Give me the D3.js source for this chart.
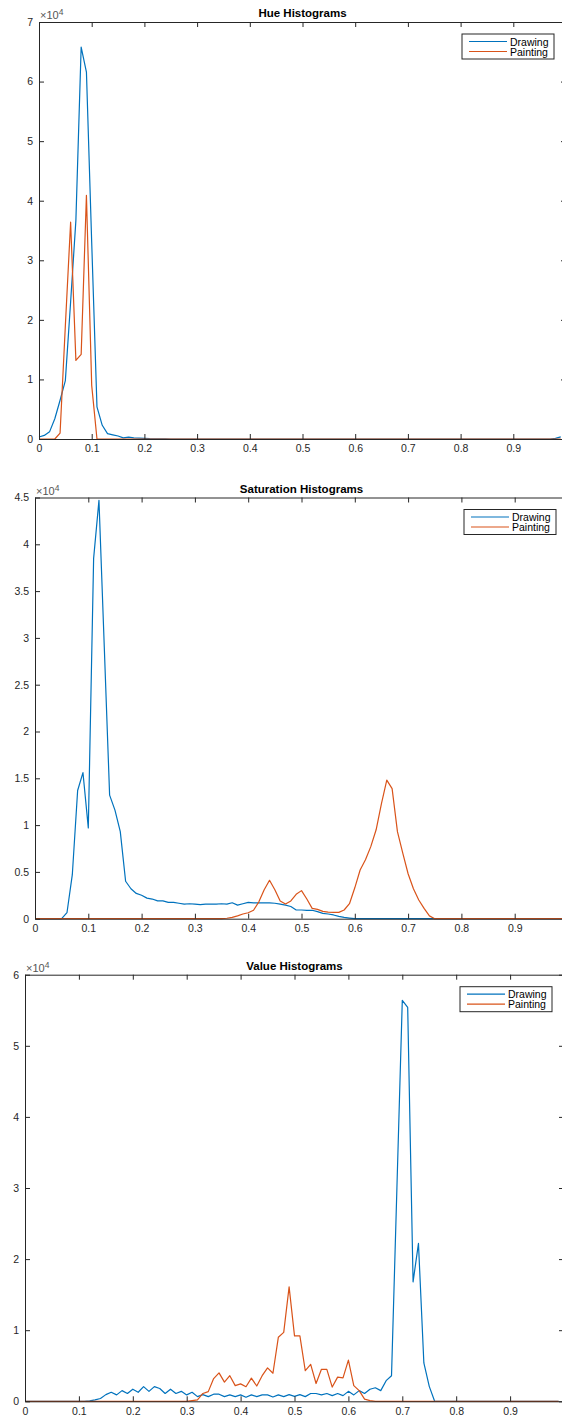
<!DOCTYPE html>
<html>
<head>
<meta charset="utf-8">
<script src="https://cdn.jsdelivr.net/npm/d3@7"></script>
<style>
  body { margin: 0; background: #fff; }
  svg { display: block; font-family: "Liberation Sans", Arial, Helvetica, sans-serif; }
</style>
</head>
<body>
<svg id="chart" width="562" height="1420"></svg>
<script>
// histogram bins 0:0.01:0.99
var bins = d3.range(100).map(function (i) { return i / 100; });

var hueDrawing = [
  340, 600, 1200, 3400, 6500, 9800, 23000, 36700, 65800, 61600,
  33000, 5400, 2300, 900, 700, 500, 200, 300, 200, 150,
  100, 60, 40, 30, 20, 0, 0, 0, 0, 0,
  0, 0, 0, 0, 0, 0, 0, 0, 0, 0,
  0, 0, 0, 0, 0, 0, 0, 0, 0, 0,
  0, 0, 0, 0, 0, 0, 0, 0, 0, 0,
  0, 0, 0, 0, 0, 0, 0, 0, 0, 0,
  0, 0, 0, 0, 0, 0, 0, 0, 0, 0,
  0, 0, 0, 0, 0, 0, 0, 0, 0, 0,
  0, 0, 0, 0, 0, 0, 0, 0, 100, 350
];
var huePainting = [
  0, 0, 0, 0, 1000, 19000, 36400, 13200, 14200, 40900,
  9000, 0, 0, 0, 0, 0, 0, 0, 0, 0,
  0, 0, 0, 0, 0, 0, 0, 0, 0, 0,
  0, 0, 0, 0, 0, 0, 0, 0, 0, 0,
  0, 0, 0, 0, 0, 0, 0, 0, 0, 0,
  0, 0, 0, 0, 0, 0, 0, 0, 0, 0,
  0, 0, 0, 0, 0, 0, 0, 0, 0, 0,
  0, 0, 0, 0, 0, 0, 0, 0, 0, 0,
  0, 0, 0, 0, 0, 0, 0, 0, 0, 0,
  0, 0, 0, 0, 0, 0, 0, 0, 0, 0
];

var satDrawing = [
  0, 0, 0, 0, 0, 0, 640, 4700, 13700, 15600,
  9700, 38500, 44700, 29000, 13200, 11600, 9300, 4000, 3200, 2700,
  2500, 2200, 2100, 1900, 1900, 1750, 1750, 1650, 1550, 1600,
  1550, 1500, 1550, 1550, 1550, 1600, 1550, 1700, 1450, 1600,
  1750, 1700, 1700, 1700, 1700, 1650, 1550, 1450, 1300, 930,
  930, 900, 900, 750, 570, 500, 400, 250, 140, 70,
  0, 0, 0, 0, 0, 0, 0, 0, 0, 0,
  0, 0, 0, 0, 0, 0, 0, 0, 0, 0,
  0, 0, 0, 0, 0, 0, 0, 0, 0, 0,
  0, 0, 0, 0, 0, 0, 0, 0, 0, 0
];
var satPainting = [
  0, 0, 0, 0, 0, 0, 0, 0, 0, 0,
  0, 0, 0, 0, 0, 0, 0, 0, 0, 0,
  0, 0, 0, 0, 0, 0, 0, 0, 0, 0,
  0, 0, 0, 0, 0, 0, 50, 140, 300, 500,
  640, 900, 1800, 3100, 4100, 3100, 1900, 1570, 1900, 2600,
  3000, 2100, 1100, 1000, 780, 700, 680, 680, 930, 1600,
  3300, 5200, 6300, 7700, 9500, 12300, 14800, 13900, 9300, 7000,
  4800, 3200, 2000, 1100, 300, 0, 0, 0, 0, 0,
  0, 0, 0, 0, 0, 0, 0, 0, 0, 0,
  0, 0, 0, 0, 0, 0, 0, 0, 0, 0
];

var valDrawing = [
  0, 0, 0, 0, 0, 0, 0, 0, 0, 0,
  0, 0, 50, 200, 400, 940, 1270, 900, 1500, 1100,
  1700, 1270, 2060, 1400, 2060, 1800, 1100, 1700, 1100, 1400,
  900, 1270, 660, 940, 660, 1000, 1000, 660, 900, 660,
  900, 560, 900, 660, 900, 900, 600, 900, 660, 940,
  700, 940, 660, 1100, 1100, 900, 1100, 800, 1100, 800,
  1400, 900, 1500, 1100, 1700, 1900, 1500, 2900, 3600, 30000,
  56400, 55400, 16800, 22200, 5400, 2100, 0, 0, 0, 0,
  0, 0, 0, 0, 0, 0, 0, 0, 0, 0,
  0, 0, 0, 0, 0, 0, 0, 0, 0, 0
];
var valPainting = [
  0, 0, 0, 0, 0, 0, 0, 0, 0, 0,
  0, 0, 0, 0, 0, 0, 0, 0, 0, 0,
  0, 0, 0, 0, 0, 0, 0, 0, 0, 0,
  0, 100, 200, 1100, 1360, 3200, 4000, 2700, 3600, 2200,
  2450, 2050, 3250, 2150, 3600, 4700, 3950, 9000, 9700, 16100,
  9200, 9200, 4300, 5200, 2500, 4500, 4500, 2000, 3400, 3300,
  5800, 2200, 1500, 300, 100, 0, 0, 0, 0, 0,
  0, 0, 0, 0, 0, 0, 0, 0, 0, 0,
  0, 0, 0, 0, 0, 0, 0, 0, 0, 0,
  0, 0, 0, 0, 0, 0, 0, 0, 0, 0
];

// tick positions; the "1" tick sits at the page edge so only its mark shows
var xTicks = [0, 0.1, 0.2, 0.3, 0.4, 0.5, 0.6, 0.7, 0.8, 0.9, 1];
var xTickLabels = ["0", "0.1", "0.2", "0.3", "0.4", "0.5", "0.6", "0.7", "0.8", "0.9", ""];
var hueTicks = [0, 1, 2, 3, 4, 5, 6, 7];
var satTicks = [0, 0.5, 1, 1.5, 2, 2.5, 3, 3.5, 4, 4.5];
var valTicks = [0, 1, 2, 3, 4, 5, 6];

var seriesNames = ["Drawing", "Painting"];
var colors = ["#0072BD", "#D95319"];

var svg = d3.select("#chart");
svg.append("rect").attr("width", 562).attr("height", 1420).attr("fill", "#fff");

// one axes box per panel (positions in page pixels)
var panels = [
  { title: "Hue Histograms", left: 39, right: 566, top: 22, bottom: 439, yTicks: hueTicks, series: [hueDrawing, huePainting] },
  { title: "Saturation Histograms", left: 35, right: 568, top: 497.5, bottom: 918.7, yTicks: satTicks, series: [satDrawing, satPainting] },
  { title: "Value Histograms", left: 25, right: 564, top: 974.7, bottom: 1401.3, yTicks: valTicks, series: [valDrawing, valPainting] }
];

panels.forEach(function (p) {
  var x = d3.scaleLinear().domain([0, 1]).range([p.left, p.right]);
  var y = d3.scaleLinear().domain([0, d3.max(p.yTicks) * 1e4]).range([p.bottom, p.top]);

  var g = svg.append("g");

  // lines
  var line = d3.line()
    .x(function (d, i) { return x(bins[i]); })
    .y(function (d) { return y(d); });

  p.series.forEach(function (s, k) {
    g.append("path")
      .datum(s)
      .attr("fill", "none")
      .attr("stroke", colors[k])
      .attr("stroke-width", 1.2)
      .attr("stroke-linejoin", "round")
      .attr("d", line);
  });

  // axes, ticks pointing inward like matlab
  g.append("g")
    .attr("transform", "translate(0," + p.bottom + ")")
    .call(d3.axisBottom(x).tickValues(xTicks)
      .tickFormat(function (d, i) { return xTickLabels[i]; })
      .tickSizeInner(-5).tickSizeOuter(0).tickPadding(6));
  g.append("g")
    .attr("transform", "translate(0," + p.top + ")")
    .call(d3.axisTop(x).tickValues(xTicks).tickFormat("").tickSizeInner(-5).tickSizeOuter(0));
  g.append("g")
    .attr("transform", "translate(" + p.left + ",0)")
    .call(d3.axisLeft(y).tickValues(p.yTicks.map(function (t) { return t * 1e4; }))
      .tickFormat(function (d, i) { return String(p.yTicks[i]); })
      .tickSizeInner(-5).tickSizeOuter(0).tickPadding(6));
  g.append("g")
    .attr("transform", "translate(" + p.right + ",0)")
    .call(d3.axisRight(y).tickValues(p.yTicks.map(function (t) { return t * 1e4; }))
      .tickFormat("").tickSizeInner(-5).tickSizeOuter(0));

  g.selectAll(".domain").attr("stroke", "#262626");
  g.selectAll(".tick line").attr("stroke", "#262626");
  g.selectAll(".tick text").attr("fill", "#262626").attr("font-size", "10.5px")
    .attr("font-family", "Liberation Sans, Arial, sans-serif");

  // exponent label
  var ex = g.append("text")
    .attr("x", p.left + 1)
    .attr("y", p.top - 3)
    .attr("font-size", "11px")
    .attr("fill", "#555");
  ex.append("tspan").text("\u00d710");
  ex.append("tspan").attr("dy", -4).attr("font-size", "8.5px").text("4");

  // title
  g.append("text")
    .attr("x", (p.left + p.right) / 2)
    .attr("y", p.top - 5)
    .attr("text-anchor", "middle")
    .attr("font-size", "11.5px")
    .attr("font-weight", "bold")
    .attr("fill", "#000")
    .text(p.title);

  // legend
  var lx = p.right - 12 - 92, ly = p.top + 12;
  var lg = g.append("g").attr("transform", "translate(" + lx + "," + ly + ")");
  lg.append("rect")
    .attr("width", 92).attr("height", 25)
    .attr("fill", "#fff").attr("stroke", "#262626").attr("stroke-width", 1);
  seriesNames.forEach(function (name, k) {
    lg.append("line")
      .attr("x1", 7).attr("x2", 45)
      .attr("y1", 7.5 + k * 10).attr("y2", 7.5 + k * 10)
      .attr("stroke", colors[k]).attr("stroke-width", 1.2);
    lg.append("text")
      .attr("x", 48).attr("y", 11.5 + k * 10)
      .attr("font-size", "10.5px")
      .attr("fill", "#000")
      .text(name);
  });
});
</script>
</body>
</html>
